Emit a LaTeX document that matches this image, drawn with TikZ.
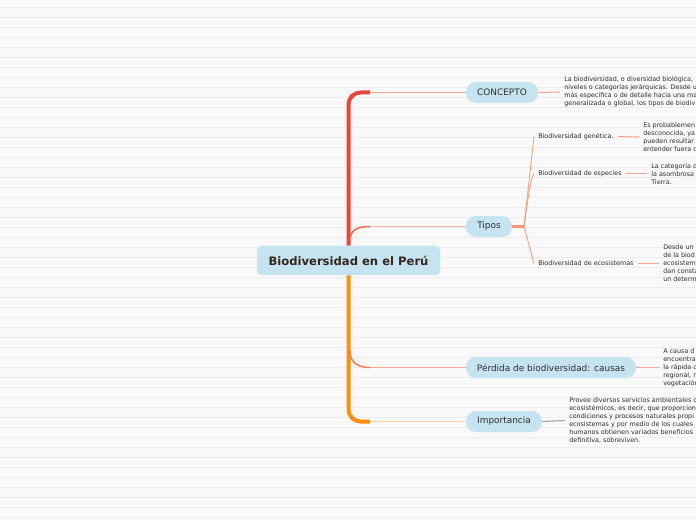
\documentclass[tikz,border=0pt]{standalone}
\usepackage{fontspec}
\setmainfont{DejaVu Sans}
\definecolor{bg}{HTML}{F9F9F9}
\definecolor{rule}{HTML}{EDEDED}
\definecolor{nodefill}{HTML}{C6E4F0}
\definecolor{trunkred}{HTML}{E8463C}
\definecolor{trunkorange}{HTML}{FF8E0C}
\definecolor{salmon}{HTML}{F5A896}
\definecolor{fan}{HTML}{F4967C}
\definecolor{lightorange}{HTML}{FFD6A4}
\definecolor{branchred}{HTML}{F06A4C}
\definecolor{branchorange}{HTML}{F47A52}
\definecolor{grayline}{HTML}{A5A5A5}
\definecolor{txt}{HTML}{2E2E2E}
\definecolor{roottxt}{HTML}{33261E}
\begin{document}
\begin{tikzpicture}[x=0.75pt,y=-0.75pt,
  topic/.style={fill=nodefill, rounded corners=7.5pt, minimum height=15.75pt, inner sep=0pt,
     font=\fontsize{6.7}{8}\selectfont, text=txt},
  central/.style={fill=nodefill, rounded corners=3.5pt, minimum width=137.25pt, minimum height=21.75pt,
     inner sep=0pt, font=\fontsize{8.7}{10}\selectfont\bfseries, text=roottxt},
  subtopic/.style={anchor=west, inner sep=0pt, font=\fontsize{4.8}{6}\selectfont, text=txt},
  desc/.style={anchor=west, inner sep=0pt, align=left, font=\fontsize{4.8}{6}\selectfont, text=txt},
  thinline/.style={line width=0.8pt, salmon},
  fanline/.style={line width=0.6pt, fan}]
\useasboundingbox (0,0) rectangle (696,520);
\begin{scope}
\clip (0,0) rectangle (696,520);
\fill[bg] (0,0) rectangle (696,520);
\foreach \k in {0,...,51} { \draw[rule, line width=0.75pt] (0,7.5+10*\k) -- (696,7.5+10*\k); }

% nodes
\node[central] (root) at (348.5,260.5) {Biodiversidad en el Perú};
\node[topic, minimum width=54pt] (concepto) at (502,92.5) {CONCEPTO};
\node[topic, minimum width=34.5pt] (tipos) at (489,226.5) {Tipos};
\node[topic, minimum width=127.5pt] (perdida) at (551,367.5) {Pérdida de biodiversidad: causas};
\node[topic, minimum width=57pt] (importancia) at (504,421.5) {Importancia};

\node[subtopic] (gen) at (538,136.5) {Biodiversidad genética.};
\node[subtopic] (esp) at (538,173.5) {Biodiversidad de especies};
\node[subtopic] (eco) at (538,263.5) {Biodiversidad de ecosistemas};

\node[desc] (dconcepto) at (564,92) {La biodiversidad, o diversidad biológica,\\niveles o categorías jerárquicas. Desde u\\más específica o de detalle hacia una ma\\generalizada o global, los tipos de biodiv};
\node[desc] (dgen) at (643,137) {Es probablemen\\desconocida, ya\\pueden resultar\\entender fuera d};
\node[desc] (desp) at (651,173.5) {La categoría d\\la asombrosa\\Tierra.};
\node[desc] (deco) at (663,263.5) {Desde un\\de la biod\\ecosistem\\dan consta\\un determ};
\node[desc] (dper) at (663,367.5) {A causa d\\encuentra\\la rápida d\\regional, r\\vegetación};
\node[desc] (dimp) at (569,420.5) {Provee diversos servicios ambientales o\\ecosistémicos, es decir, que proporcion\\condiciones y procesos naturales propi\\ecosistemas y por medio de los cuales\\humanos obtienen variados beneficios\\definitiva, sobreviven.};

% branch coordinates
\coordinate (kC) at (370,92.5);
\coordinate (kT) at (370,226.5);
\coordinate (kP) at (370,367.5);
\coordinate (kI) at (370,421.5);
\coordinate (sT) at (350,241);
\coordinate (sP) at (350,351);
\coordinate (fanpt) at (524,226.5);

% trunk
\draw[trunkred, line width=3pt, rounded corners=9pt] (root.north) |- (kC);
\draw[trunkorange, line width=3pt, rounded corners=9pt] (root.south) |- (kI);
\draw[branchred, line width=1.1pt] (sT) .. controls (350,230) and (357,226.5) .. (kT);
\draw[branchorange, line width=1.1pt] (sP) .. controls (350,362) and (357,367.5) .. (kP);

\draw[salmon, line width=0.9pt] (kC) -- (concepto.west);
\draw[salmon!80, line width=0.9pt] (kT) -- (tipos.west);
\draw[salmon, line width=0.9pt] (kP) -- (perdida.west);
\draw[lightorange, line width=0.9pt] (kI) -- (importancia.west);

% redraw root on top of trunk
\node[central] at (root) {Biodiversidad en el Perú};

% tipos fan
\draw[fan, line width=1.6pt] (tipos.east) -- (fanpt);
\draw[fanline] (fanpt) -- ([xshift=-3pt]gen.west);
\draw[fanline] (fanpt) .. controls (528,200) and (530,180) .. ([xshift=-3pt]esp.west);
\draw[fanline] (fanpt) -- ([xshift=-3pt]eco.west);

% description connectors
\draw[thinline] (concepto.east) -- ([xshift=-3pt]dconcepto.west);
\draw[thinline] ([xshift=3pt]gen.east) -- ([xshift=-3pt]dgen.west);
\draw[thinline] ([xshift=3pt]esp.east) -- ([xshift=-3pt]desp.west);
\draw[thinline] ([xshift=3pt]eco.east) -- ([xshift=-3pt]deco.west);
\draw[thinline] (perdida.east) -- ([xshift=-3pt]dper.west);
\draw[grayline, line width=0.9pt] (importancia.east) -- ([xshift=-3pt]dimp.west);
\end{scope}
\end{tikzpicture}
\end{document}
